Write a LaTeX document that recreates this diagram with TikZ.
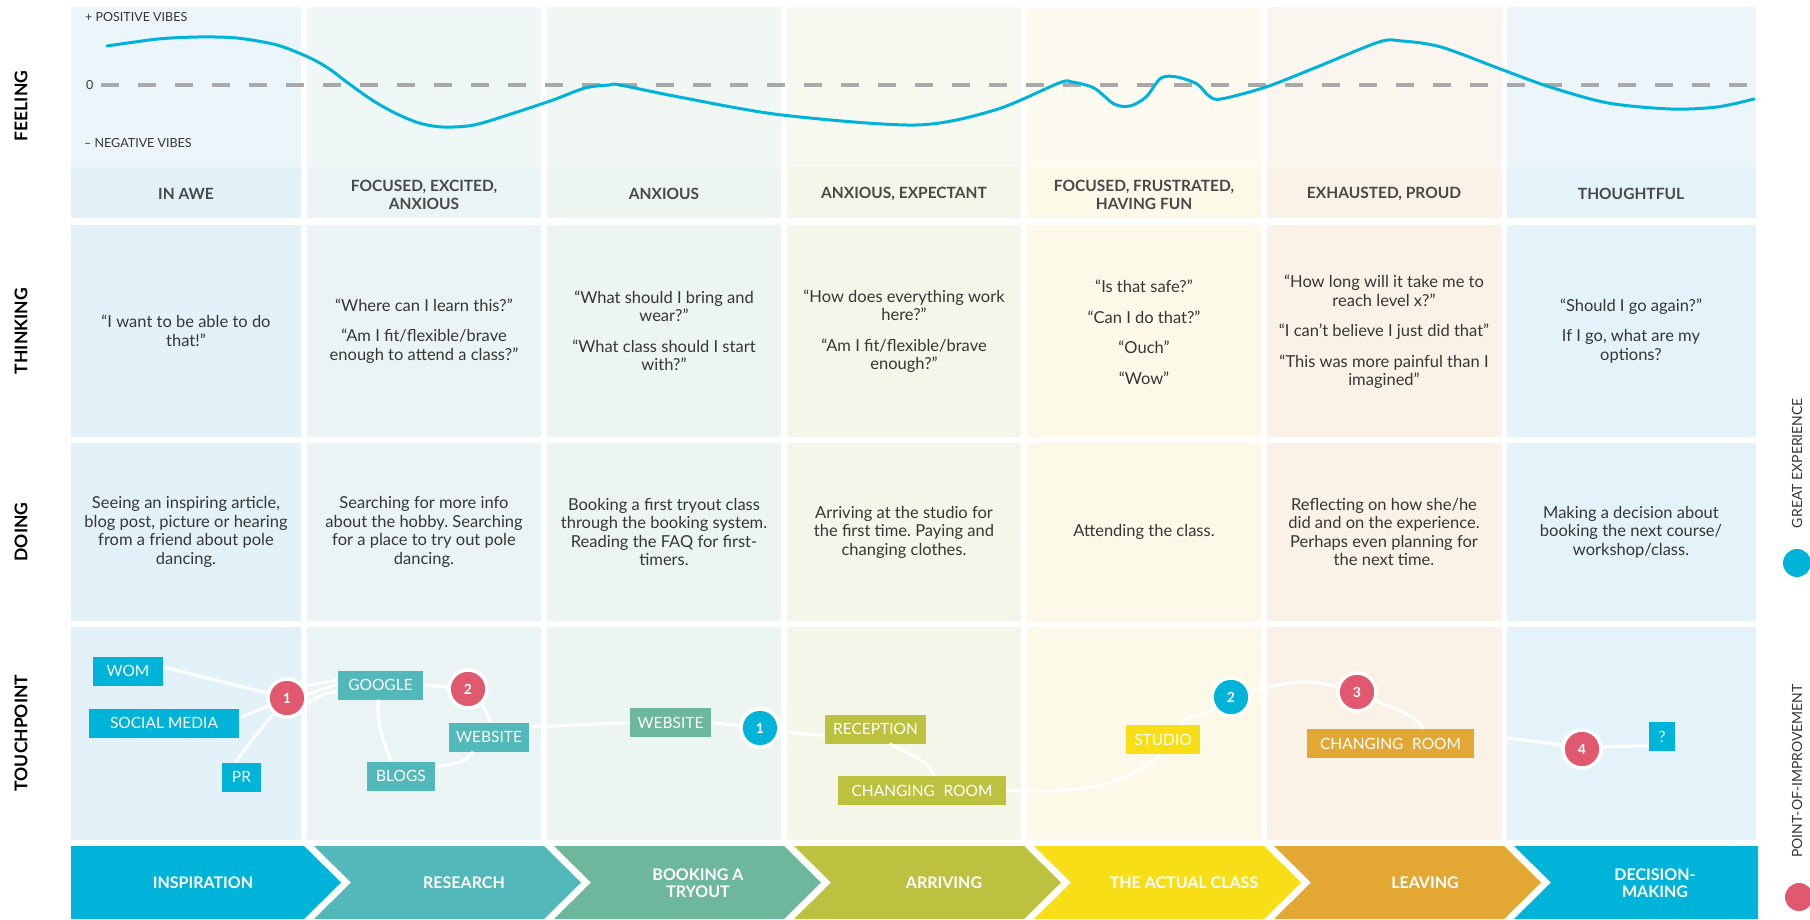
\documentclass[tikz,border=0pt]{standalone}
\usepackage{fontspec}
\setmainfont{Lato}
\usetikzlibrary{positioning}
\frenchspacing

\definecolor{bgone}{HTML}{E3F2F8}
\definecolor{feone}{HTML}{EBF5FA}
\definecolor{bgtwo}{HTML}{EAF4F4}
\definecolor{fetwo}{HTML}{EFF7F7}
\definecolor{bgthree}{HTML}{ECF5F0}
\definecolor{fethree}{HTML}{F0F7F3}
\definecolor{bgfour}{HTML}{F5F6EA}
\definecolor{fefour}{HTML}{F7F8F0}
\definecolor{bgfive}{HTML}{FDF9E9}
\definecolor{fefive}{HTML}{FDFBF0}
\definecolor{bgsix}{HTML}{FAF2E6}
\definecolor{fesix}{HTML}{FAF5EE}
\definecolor{bgseven}{HTML}{E4F3F9}
\definecolor{feseven}{HTML}{ECF6FA}
\definecolor{stinsp}{HTML}{00B3D9}
\definecolor{stres}{HTML}{52B8B9}
\definecolor{stbook}{HTML}{6DB89C}
\definecolor{starr}{HTML}{BCC23F}
\definecolor{stclass}{HTML}{F8DE17}
\definecolor{stleave}{HTML}{E3A733}
\definecolor{ptred}{HTML}{E0596E}
\definecolor{dashgrey}{HTML}{A9A9AB}
\definecolor{txtgrey}{HTML}{363636}
\definecolor{moodgrey}{HTML}{484848}

\tikzset{
    rowlabel/.style = {rotate=90, inner sep=0pt, text=black, font=\fontsize{17.5}{18}\selectfont\bfseries},
    vibes/.style = {anchor=west, inner sep=0pt, text=txtgrey, font=\fontsize{12.5}{13}\selectfont},
    mood/.style = {align=center, inner sep=0pt, text=moodgrey, font=\fontsize{15.5}{18}\selectfont\bfseries},
    celltext/.style = {align=center, inner sep=0pt, text=txtgrey, font=\fontsize{16.5}{18.5}\selectfont},
    tpbox/.style = {rectangle, minimum height=29pt, inner sep=0pt, text=white, font=\fontsize{15.5}{15}\selectfont},
    tpnoder/.style = {circle, draw=white, line width=3.5pt, fill=ptred, minimum size=38pt, inner sep=0pt, text=white, font=\fontsize{14}{14}\selectfont\bfseries},
    tpnodeb/.style = {tpnoder, fill=stinsp},
    edgew/.style = {white, line width=3pt},
    stagelbl/.style = {align=center, inner sep=0pt, text=white, font=\fontsize{16}{17}\selectfont\bfseries},
    legend/.style = {rotate=90, inner sep=0pt, text=txtgrey, font=\fontsize{14}{14}\selectfont},
    feelcurve/.style = {draw=stinsp, line width=3pt, line cap=round},
    zeroline/.style = {draw=dashgrey, line width=4pt, dash pattern=on 18pt off 19pt}
}

\begin{document}
\begin{tikzpicture}[x=1pt, y=1pt]
  \useasboundingbox (0,0) rectangle (1810,-919);

  % columns
  \fill[bgone] (71,-7) rectangle (301,-840);
  \fill[bgtwo] (307,-7) rectangle (541,-840);
  \fill[bgthree] (547,-7) rectangle (781,-840);
  \fill[bgfour] (787,-7) rectangle (1021,-840);
  \fill[bgfive] (1027,-7) rectangle (1261,-840);
  \fill[bgsix] (1267,-7) rectangle (1502,-840);
  \fill[bgseven] (1507,-7) rectangle (1756,-840);
  \fill[feone] (71,-7) rectangle (301,-167);
  \fill[fetwo] (307,-7) rectangle (541,-167);
  \fill[fethree] (547,-7) rectangle (781,-167);
  \fill[fefour] (787,-7) rectangle (1021,-167);
  \fill[fefive] (1027,-7) rectangle (1261,-167);
  \fill[fesix] (1267,-7) rectangle (1502,-167);
  \fill[feseven] (1507,-7) rectangle (1756,-167);
  \fill[white] (60,-218) rectangle (1765,-225);
  \fill[white] (60,-437) rectangle (1765,-443);
  \fill[white] (60,-621) rectangle (1765,-627);

  \node[rowlabel] (lfeel) at (21,-106) {FEELING};
  \node[rowlabel] (lthink) at (21,-331) {THINKING};
  \node[rowlabel] (ldo) at (21,-532) {DOING};
  \node[rowlabel] (ltouch) at (21,-733) {TOUCHPOINT};

  % feeling
  \node[vibes] (pos) at (85,-17) {+ POSITIVE VIBES};
  \node[vibes] (zero) at (86,-85) {0};
  \node[vibes] (neg) at (84,-143) {– NEGATIVE VIBES};
  \draw[zeroline] (101,-85) -- (1756,-85);
  \draw[feelcurve] plot[smooth, tension=0.5] coordinates {
    (107,-46) (158,-39) (198,-37) (237,-38) (277,-45) (308,-57) (328,-68)
    (348,-83) (372,-100) (395,-113) (419,-123) (443,-127) (474,-125)
    (514,-113) (553,-100) (585,-88) (609,-85) (620,-85) (679,-97)
    (782,-115) (916,-125) (995,-110) (1059,-83) (1072,-82) (1094,-88)
    (1114,-104) (1130,-106) (1146,-97) (1161,-78) (1177,-77) (1197,-84)
    (1209,-96) (1221,-99) (1266,-87) (1317,-67) (1379,-42) (1402,-41)
    (1441,-47) (1503,-70) (1550,-87) (1608,-103) (1671,-109) (1717,-107)
    (1754,-99)};

  \node[mood] (e1) at (186,-194) {IN AWE};
  \node[mood] (e2) at (424,-195) {FOCUSED, EXCITED,\\ANXIOUS};
  \node[mood] (e3) at (664,-194) {ANXIOUS};
  \node[mood] (e4) at (904,-194) {ANXIOUS, EXPECTANT};
  \node[mood] (e5) at (1144,-195) {FOCUSED, FRUSTRATED,\\HAVING FUN};
  \node[mood] (e6) at (1384,-194) {EXHAUSTED, PROUD};
  \node[mood] (e7) at (1631,-194) {THOUGHTFUL};

  % thinking
  \node[celltext] (t1) at (186,-331) {“I want to be able to do\\that!”};
  \node[celltext] (t2) at (424,-331) {“Where can I learn this?”\\[12pt]“Am I fit/flexible/brave\\enough to attend a class?”};
  \node[celltext] (t3) at (664,-331) {“What should I bring and\\wear?”\\[12pt]“What class should I start\\with?”};
  \node[celltext] (t4) at (904,-331) {“How does everything work\\here?”\\[12pt]“Am I fit/flexible/brave\\enough?”};
  \node[celltext] (t5) at (1144,-332) {“Is that safe?”\\[12pt]“Can I do that?”\\[12pt]“Ouch”\\[12pt]“Wow”};
  \node[celltext] (t6) at (1384,-332) {“How long will it take me to\\reach level x?”\\[12pt]“I can’t believe I just did that”\\[12pt]“This was more painful than I\\imagined”};
  \node[celltext] (t7) at (1631,-331) {“Should I go again?”\\[12pt]If I go, what are my\\options?};

  % doing
  \node[celltext] (d1) at (186,-532) {Seeing an inspiring article,\\blog post, picture or hearing\\from a friend about pole\\dancing.};
  \node[celltext] (d2) at (424,-532) {Searching for more info\\about the hobby. Searching\\for a place to try out pole\\dancing.};
  \node[celltext] (d3) at (664,-532) {Booking a first tryout class\\through the booking system.\\Reading the FAQ for first-\\timers.};
  \node[celltext] (d4) at (904,-532) {Arriving at the studio for\\the first time. Paying and\\changing clothes.};
  \node[celltext] (d5) at (1144,-532) {Attending the class.};
  \node[celltext] (d6) at (1384,-532) {Reflecting on how she/he\\did and on the experience.\\Perhaps even planning for\\the next time.};
  \node[celltext] (d7) at (1631,-532) {Making a decision about\\booking the next course/\\workshop/class.};

  % touchpoints
  \node[tpbox, fill=stinsp, minimum width=70pt] (wom) at (128,-671) {WOM};
  \node[tpbox, fill=stinsp, minimum width=150pt] (social) at (164,-723) {SOCIAL MEDIA};
  \node[tpbox, fill=stinsp, minimum width=39pt] (pr) at (241.5,-777) {PR};
  \node[tpnoder] (pa) at (287,-698) {1};
  \node[tpbox, fill=stres, minimum width=85pt] (google) at (380.5,-685) {GOOGLE};
  \node[tpnoder] (pb) at (468,-689) {2};
  \node[tpbox, fill=stres, minimum width=80pt] (webres) at (489,-737) {WEBSITE};
  \node[tpbox, fill=stres, minimum width=68pt] (blogs) at (401,-776) {BLOGS};
  \node[tpbox, fill=stbook, minimum width=81pt] (webbook) at (670.5,-722.5) {WEBSITE};
  \node[tpnodeb] (ga) at (760,-728) {1};
  \node[tpbox, fill=starr, minimum width=101pt] (recep) at (875.5,-729) {RECEPTION};
  \node[tpbox, fill=starr, minimum width=168pt] (roomarr) at (922,-790.5) {CHANGING\hspace{0.3em} ROOM};
  \node[tpbox, fill=stclass, minimum width=74pt] (studio) at (1163,-739.5) {STUDIO};
  \node[tpnodeb] (gb) at (1231,-697) {2};
  \node[tpnoder] (pc) at (1357,-692) {3};
  \node[tpbox, fill=stleave, minimum width=167pt] (roomleave) at (1390.5,-743.5) {CHANGING\hspace{0.3em} ROOM};
  \coordinate (gapend) at (1507,-738);
  \node[tpnoder] (pd) at (1582,-749) {4};
  \node[tpbox, fill=stinsp, minimum width=26pt] (ask) at (1662,-736.5) {?};

  \draw[edgew] ([yshift=4pt]wom.east) -- (pa);
  \draw[edgew] ([yshift=5pt]social.east) -- (pa);
  \draw[edgew] ([xshift=-6pt]pr.north) to[out=55,in=-130] (pa);
  \draw[edgew] (pa.35) -- ([yshift=5pt]google.west);
  \draw[edgew] (pa.10) -- ([yshift=1pt]google.west);
  \draw[edgew] (pa.-15) to[out=30,in=180] ([yshift=-7pt]google.west);
  \draw[edgew] (google.east) -- (pb);
  \draw[edgew] ([xshift=-2pt]google.south) to[out=-95,in=110] ([xshift=-10pt]blogs.north);
  \draw[edgew] (blogs.15) to[out=10,in=-125] ([xshift=-16pt]webres.south);
  \draw[edgew] (pb.-45) to[out=-75,in=90] (webres.north);
  \draw[edgew] ([yshift=10pt]webres.east) -- (webbook.west);
  \draw[edgew] (webbook.east) -- (ga);
  \draw[edgew] (ga) to[out=-8,in=180] ([yshift=-6pt]recep.west);
  \draw[edgew] ([xshift=14pt]recep.south) to[out=-30,in=115] ([xshift=12pt]roomarr.north);
  \draw[edgew] (roomarr.east) to[out=0,in=-140] ([xshift=-2pt]studio.south);
  \draw[edgew] ([xshift=18pt]studio.north) to[out=60,in=-145] (gb);
  \draw[edgew] (gb) to[out=15,in=165] (pc);
  \draw[edgew] (pc) to[out=-25,in=125] ([xshift=33pt]roomleave.north);
  \draw[edgew] (gapend) to[out=-8,in=170] (pd);
  \draw[edgew] (pd) to[out=5,in=185] ([yshift=-9pt]ask.west);

  % stages
  \fill[stinsp] (71,-846) -- (304,-846) -- (341,-882.5) -- (304,-919) -- (71,-919) -- cycle;
  \fill[stres] (314,-846) -- (544,-846) -- (581,-882.5) -- (544,-919) -- (314,-919) -- (351,-882.5) -- cycle;
  \fill[stbook] (554,-846) -- (784,-846) -- (821,-882.5) -- (784,-919) -- (554,-919) -- (591,-882.5) -- cycle;
  \fill[starr] (794,-846) -- (1024,-846) -- (1061,-882.5) -- (1024,-919) -- (794,-919) -- (831,-882.5) -- cycle;
  \fill[stclass] (1034,-846) -- (1264,-846) -- (1301,-882.5) -- (1264,-919) -- (1034,-919) -- (1071,-882.5) -- cycle;
  \fill[stleave] (1274,-846) -- (1504,-846) -- (1541,-882.5) -- (1504,-919) -- (1274,-919) -- (1311,-882.5) -- cycle;
  \fill[stinsp] (1514,-846) -- (1758,-846) -- (1758,-919) -- (1514,-919) -- (1551,-882.5) -- cycle;
  \node[stagelbl] (s1) at (203,-883) {INSPIRATION};
  \node[stagelbl] (s2) at (464,-883) {RESEARCH};
  \node[stagelbl] (s3) at (698,-883.5) {BOOKING A\\TRYOUT};
  \node[stagelbl] (s4) at (944,-883) {ARRIVING};
  \node[stagelbl] (s5) at (1184,-883) {THE ACTUAL CLASS};
  \node[stagelbl] (s6) at (1425,-883) {LEAVING};
  \node[stagelbl] (s7) at (1655,-883.5) {DECISION-\\MAKING};

  % legend
  \node[legend] (lgreat) at (1797,-463) {GREAT EXPERIENCE};
  \node[circle, fill=stinsp, minimum size=28pt, inner sep=0pt] (dotb) at (1797,-563) {};
  \node[legend] (lpoint) at (1797,-771) {POINT-OF-IMPROVEMENT};
  \node[circle, fill=ptred, minimum size=28pt, inner sep=0pt] (dotr) at (1799,-897) {};
\end{tikzpicture}
\end{document}
